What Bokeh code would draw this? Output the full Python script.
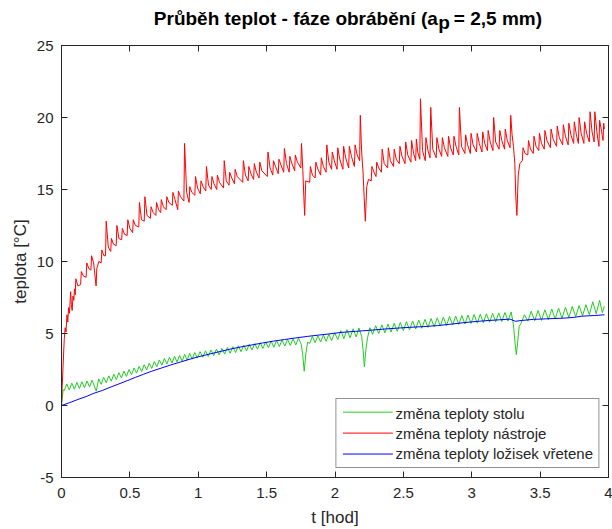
from bokeh.plotting import figure
from bokeh.layouts import column
from bokeh.models import Range1d, LinearAxis, FixedTicker, Legend, LegendItem, Label
from bokeh.embed import file_html
from bokeh.resources import INLINE

# ---------------- data ----------------
x_ticks = [0, 0.5, 1, 1.5, 2, 2.5, 3, 3.5, 4]
x_tick_labels = ["0", "0.5", "1", "1.5", "2", "2.5", "3", "3.5", "4"]
y_ticks = [-5, 0, 5, 10, 15, 20, 25]
y_tick_labels = ["-5", "0", "5", "10", "15", "20", "25"]

series_names = ["změna teploty stolu", "změna teploty nástroje", "změna teploty ložisek vřetene"]

# tool temperature (red)
red_t = [0, 0.005, 0.010, 0.015, 0.020, 0.027, 0.033, 0.040, 0.046, 0.052, 0.058, 0.063, 0.067, 0.072, 0.078, 0.084, 0.090, 0.095,
         0.100, 0.105, 0.120,
         0.140, 0.145, 0.160,
         0.180, 0.185, 0.200,
         0.215, 0.220, 0.235,
         0.253, 0.258, 0.273,
         0.290, 0.295, 0.310,
         0.322, 0.327, 0.342,
         0.360, 0.365, 0.380,
         0.400, 0.405, 0.420,
         0.440, 0.445, 0.460,
         0.480, 0.485, 0.500,
         0.520, 0.525, 0.540,
         0.565, 0.570, 0.585,
         0.605, 0.610, 0.625,
         0.650, 0.655, 0.670,
         0.690, 0.695, 0.710,
         0.725, 0.730, 0.745,
         0.765, 0.770, 0.785,
         0.810, 0.815, 0.830,
         0.850, 0.855, 0.870,
         0.895, 0.900, 0.915,
         0.933, 0.938, 0.953,
         0.975, 0.980, 0.995,
         1.015, 1.020, 1.035,
         1.055, 1.060, 1.075,
         1.095, 1.100, 1.115,
         1.135, 1.140, 1.155,
         1.185, 1.190, 1.205,
         1.225, 1.230, 1.245,
         1.265, 1.270, 1.285,
         1.325, 1.330, 1.345,
         1.365, 1.370, 1.385,
         1.405, 1.410, 1.425,
         1.445, 1.450, 1.465,
         1.505, 1.510, 1.525,
         1.545, 1.550, 1.565,
         1.585, 1.590, 1.605,
         1.625, 1.630, 1.645,
         1.665, 1.670, 1.685,
         1.705, 1.710, 1.725,
         1.750, 1.755, 1.765,
         1.772, 1.778, 1.786,
         1.815, 1.820, 1.835,
         1.855, 1.860, 1.875,
         1.895, 1.900, 1.915,
         1.935, 1.940, 1.955,
         1.975, 1.980, 1.995,
         2.015, 2.020, 2.035,
         2.058, 2.063, 2.078,
         2.100, 2.105, 2.120,
         2.142, 2.147, 2.162,
         2.180, 2.185, 2.195,
         2.205, 2.213, 2.222,
         2.232, 2.245,
         2.265, 2.270, 2.285,
         2.300, 2.305, 2.320,
         2.340, 2.345, 2.360,
         2.385, 2.390, 2.405,
         2.428, 2.433, 2.448,
         2.470, 2.475, 2.490,
         2.512, 2.517, 2.532,
         2.555, 2.560, 2.575,
         2.590, 2.595, 2.605,
         2.620, 2.625, 2.640,
         2.660, 2.665, 2.680,
         2.695, 2.700, 2.715,
         2.740, 2.745, 2.760,
         2.780, 2.785, 2.800,
         2.825, 2.830, 2.845,
         2.865, 2.870, 2.885,
         2.905, 2.910, 2.925,
         2.950, 2.955, 2.970,
         2.990, 2.995, 3.010,
         3.035, 3.040, 3.055,
         3.075, 3.080, 3.095,
         3.115, 3.120, 3.135,
         3.155, 3.160, 3.175,
         3.200, 3.205, 3.220,
         3.240, 3.245, 3.260,
         3.280, 3.285, 3.295,
         3.305, 3.315, 3.322, 3.330, 3.340, 3.352,
         3.370, 3.375, 3.390,
         3.410, 3.415, 3.430,
         3.450, 3.455, 3.470,
         3.490, 3.495, 3.510,
         3.530, 3.535, 3.550,
         3.575, 3.580, 3.595,
         3.620, 3.625, 3.640,
         3.665, 3.670, 3.685,
         3.705, 3.710, 3.725,
         3.745, 3.750, 3.765,
         3.780, 3.785, 3.800,
         3.820, 3.825, 3.840,
         3.860, 3.865, 3.880,
         3.895, 3.900, 3.915,
         3.930, 3.935, 3.950,
         3.960, 3.965, 3.970]
red_v = [0, 1.3, 2.4, 3.5, 4.6, 5.4, 5.1, 6.3, 5.8, 6.8, 6.4, 7.2, 7.9, 7.0, 6.6, 7.6, 7.3, 8.1,
         7.7, 8.8, 8.3,
         8.4, 9.3, 9.0,
         8.9, 9.9, 9.5,
         9.4, 10.4, 9.9,
         8.3, 9.5, 10.0,
         9.9, 10.8, 10.4,
         10.4, 12.8, 11.0,
         10.7, 11.6, 11.2,
         11.1, 12.5, 11.6,
         11.5, 12.3, 11.9,
         11.8, 12.9, 12.3,
         12.0, 12.9, 12.5,
         12.4, 14.1, 12.9,
         12.8, 14.5, 13.2,
         13.0, 13.8, 13.4,
         13.2, 14.1, 13.6,
         13.4, 14.3, 13.8,
         13.6, 14.5, 14.1,
         13.9, 14.8, 14.3,
         13.6, 14.9, 14.5,
         14.2, 18.2, 14.8,
         14.1, 15.2, 14.8,
         14.6, 15.9, 15.1,
         14.7, 15.6, 15.2,
         14.9, 16.6, 15.3,
         15.0, 15.9, 15.4,
         15.0, 16.0, 15.5,
         15.1, 17.0, 15.6,
         15.3, 16.2, 15.8,
         15.4, 16.4, 15.9,
         15.5, 17.0, 16.0,
         15.6, 16.6, 16.1,
         15.7, 16.8, 16.2,
         15.8, 16.9, 16.3,
         15.9, 17.6, 16.5,
         16.0, 17.0, 16.6,
         16.1, 17.1, 16.7,
         16.2, 17.85, 16.8,
         16.2, 17.3, 16.8,
         16.3, 17.4, 16.9,
         16.5, 18.2, 16.3,
         14.5, 13.2, 15.6,
         15.5, 16.6, 16.0,
         15.8, 16.9, 16.4,
         16.0, 17.2, 16.6,
         16.2, 18.1, 16.9,
         16.4, 17.6, 17.0,
         16.4, 17.9, 17.1,
         16.4, 18.0, 17.2,
         16.5, 18.0, 17.3,
         16.6, 18.1, 17.4,
         17.0, 20.15, 17.6,
         16.2, 14.5, 12.8,
         15.2, 15.7,
         15.6, 16.6, 16.2,
         15.9, 16.9, 16.5,
         16.2, 17.8, 16.8,
         16.5, 17.9, 17.0,
         16.6, 17.8, 17.1,
         16.8, 18.0, 17.3,
         16.8, 18.3, 17.4,
         16.9, 18.4, 17.5,
         17.0, 18.5, 17.6,
         17.1, 21.3, 17.7,
         17.0, 18.6, 17.7,
         17.2, 20.7, 17.8,
         17.2, 18.6, 17.8,
         17.3, 18.6, 17.9,
         17.3, 18.7, 17.9,
         17.4, 18.7, 18.0,
         17.4, 20.7, 18.0,
         17.5, 18.8, 18.1,
         17.5, 18.9, 18.1,
         17.6, 18.9, 18.2,
         17.6, 19.0, 18.2,
         17.7, 19.1, 18.3,
         17.7, 20.0, 18.3,
         17.8, 19.1, 18.4,
         17.8, 19.2, 18.4,
         17.9, 20.15, 18.8,
         18.0, 16.8, 14.5, 13.2, 16.0, 16.8,
         17.0, 17.9, 17.5,
         17.4, 18.4, 17.8,
         17.5, 18.7, 18.0,
         17.7, 18.9, 18.2,
         17.8, 19.1, 18.4,
         17.9, 19.2, 18.5,
         18.0, 19.4, 18.6,
         18.1, 19.5, 18.7,
         18.1, 19.6, 18.8,
         18.2, 19.7, 18.8,
         18.2, 20.0, 18.9,
         18.2, 19.7, 18.9,
         18.3, 20.4, 19.0,
         18.3, 20.4, 19.0,
         18.0, 19.8, 19.0,
         18.4, 19.6, 19.2]

# table temperature (green): cusp / crest pairs
green_t = [0, 0.006, 0.012,
           0.020, 0.0385, 0.057, 0.0755, 0.094, 0.1125, 0.131, 0.1495, 0.168, 0.1865, 0.205, 0.2235,
           0.254, 0.272, 0.290, 0.3085, 0.327, 0.3455, 0.364, 0.3825, 0.401, 0.4195, 0.438, 0.4565,
           0.475, 0.4935, 0.512, 0.5305, 0.549, 0.5675, 0.586, 0.6045, 0.623, 0.6415, 0.660, 0.6785,
           0.697, 0.7155, 0.734, 0.7525, 0.771, 0.7895, 0.808, 0.8265, 0.845, 0.8635, 0.882, 0.9005,
           0.919, 0.9375, 0.956, 0.9745, 0.993, 1.013, 1.033, 1.053, 1.073, 1.093, 1.113, 1.133,
           1.153, 1.173, 1.193, 1.213, 1.233, 1.253, 1.273, 1.293, 1.313, 1.333, 1.353, 1.373,
           1.393, 1.413, 1.433, 1.453, 1.473, 1.493, 1.513, 1.533, 1.553, 1.573, 1.593, 1.613,
           1.633, 1.653, 1.673, 1.693, 1.713, 1.733, 1.753, 1.763, 1.775, 1.787, 1.800,
           1.815, 1.835, 1.855, 1.875, 1.895, 1.915, 1.935, 1.955, 1.975, 1.9975,
           2.020, 2.0425, 2.065, 2.0875, 2.110, 2.1325, 2.155, 2.175, 2.195, 2.205, 2.215, 2.226, 2.238, 2.255,
           2.275, 2.2975, 2.320, 2.3425, 2.365, 2.3875, 2.410, 2.4325, 2.455, 2.4775, 2.500, 2.5225,
           2.545, 2.5675, 2.590, 2.6125, 2.635, 2.6575, 2.680, 2.7025, 2.725, 2.7475, 2.770, 2.7925,
           2.815, 2.8375, 2.860, 2.8825, 2.905, 2.9275, 2.950, 2.9725, 2.995, 3.0175, 3.040, 3.0625,
           3.085, 3.1075, 3.130, 3.1525, 3.175, 3.1975, 3.220, 3.2425, 3.265, 3.288,
           3.305, 3.316, 3.326, 3.336, 3.347, 3.360, 3.385,
           3.410, 3.435, 3.460, 3.485, 3.510, 3.535, 3.560, 3.585, 3.610, 3.635, 3.660, 3.685,
           3.710, 3.735, 3.760, 3.785, 3.810, 3.835, 3.860, 3.885, 3.910, 3.935, 3.955, 3.970]
green_v = [0, 0.5, 1.1,
           1.03, 1.50, 1.08, 1.55, 1.13, 1.60, 1.18, 1.65, 1.24, 1.70, 1.29, 1.76,
           1.00, 1.85, 1.47, 1.95, 1.58, 2.06, 1.69, 2.17, 1.80, 2.28, 1.91, 2.39,
           2.02, 2.50, 2.14, 2.61, 2.25, 2.72, 2.36, 2.83, 2.47, 2.94, 2.58, 3.05,
           2.69, 3.16, 2.80, 3.27, 2.89, 3.35, 2.95, 3.42, 3.02, 3.48, 3.09, 3.55,
           3.15, 3.62, 3.22, 3.68, 3.29, 3.74, 3.35, 3.80, 3.40, 3.86, 3.46, 3.92,
           3.51, 3.97, 3.57, 4.03, 3.63, 4.08, 3.68, 4.14, 3.74, 4.19, 3.79, 4.25,
           3.85, 4.30, 3.91, 4.36, 3.96, 4.42, 4.01, 4.47, 4.05, 4.51, 4.09, 4.55,
           4.13, 4.59, 4.17, 4.63, 4.21, 4.67, 4.25, 3.60, 2.38, 3.60, 4.40,
           4.31, 4.80, 4.36, 4.85, 4.41, 4.90, 4.46, 4.95, 4.51, 5.05,
           4.58, 5.20, 4.64, 5.27, 4.70, 5.33, 4.76, 5.38, 4.80, 3.90, 2.68, 3.90, 4.70, 5.40,
           4.94, 5.55, 5.00, 5.60, 5.05, 5.66, 5.10, 5.71, 5.15, 5.77, 5.20, 5.82,
           5.25, 5.87, 5.31, 5.93, 5.36, 5.98, 5.42, 6.04, 5.47, 6.09, 5.52, 6.14,
           5.55, 6.18, 5.59, 6.21, 5.63, 6.25, 5.66, 6.28, 5.70, 6.32, 5.72, 6.34,
           5.75, 6.37, 5.78, 6.40, 5.81, 6.43, 5.83, 6.46, 5.86, 6.50,
           5.60, 4.40, 3.53, 4.40, 5.50, 5.70, 6.30,
           5.86, 6.55, 5.88, 6.60, 5.91, 6.65, 5.96, 6.70, 6.01, 6.76, 6.06, 6.82,
           6.11, 6.88, 6.16, 6.94, 6.23, 7.00, 6.30, 7.20, 6.37, 7.30, 6.45, 6.90]

# spindle bearing temperature (blue)
blue_t = [0, 0.06, 0.12, 0.18, 0.237, 0.30, 0.36, 0.42, 0.48, 0.54, 0.60, 0.66, 0.73, 0.80, 0.87, 0.94,
          1.00, 1.08, 1.16, 1.24, 1.32, 1.40, 1.47, 1.55, 1.63, 1.71, 1.80, 1.88, 1.95, 2.05, 2.15, 2.25,
          2.35, 2.45, 2.55, 2.65, 2.75, 2.85, 2.95, 3.04, 3.12, 3.20, 3.28, 3.30, 3.32, 3.36, 3.45, 3.55,
          3.68, 3.75, 3.80, 3.90, 3.97]
blue_v = [0, 0.20, 0.42, 0.62, 0.85, 1.05, 1.28, 1.50, 1.72, 1.95, 2.17, 2.38, 2.60, 2.82, 3.02, 3.22,
          3.38, 3.57, 3.75, 3.93, 4.08, 4.22, 4.34, 4.47, 4.58, 4.69, 4.80, 4.89, 4.96, 5.08, 5.15, 5.22,
          5.30, 5.37, 5.43, 5.48, 5.55, 5.65, 5.76, 5.84, 5.90, 5.95, 6.00, 5.92, 5.85, 5.90, 5.98, 6.02,
          6.07, 6.12, 6.20, 6.25, 6.30]

title_main = "Průběh teplot - fáze obrábění (a"
title_sub = "p"
title_rest = "= 2,5 mm)"
x_label = "t [hod]"
y_label = "teplota [°C]"

# ---------------- styling ----------------
FONT = "Liberation Sans"
DARK = "#262626"
GREEN = "#22cc22"
RED = "#ff0000"
BLUE = "#0000ff"
COLORS = [GREEN, RED, BLUE]
W = 612
TITLE_H = 35

# --- title strip (a separate svg figure, px-based ranges) ---
pt = figure(width=W, height=TITLE_H, output_backend="svg", toolbar_location=None,
            x_range=Range1d(0, W), y_range=Range1d(0, TITLE_H),
            x_axis_location=None, y_axis_location=None, min_border=0,
            background_fill_color="white", border_fill_color="white")
pt.grid.visible = False
pt.outline_line_color = None
common = dict(text_font=FONT, text_font_size="19px", text_font_style="bold", text_color="black",
              text_baseline="middle")
pt.add_layout(Label(x=421, y=17.3, text=title_main, text_align="right", **common))
pt.add_layout(Label(x=421.5, y=13.3, text=title_sub, text_align="left", **common))
pt.add_layout(Label(x=439, y=17.3, text=title_rest, text_align="left", **common))

# --- main chart ---
p = figure(width=W, height=529 - TITLE_H, output_backend="svg", toolbar_location=None,
           x_range=Range1d(0, 4), y_range=Range1d(-5, 25),
           min_border_left=61, min_border_right=4, min_border_top=10, min_border_bottom=51,
           background_fill_color="white", border_fill_color="white")
p.grid.visible = False
p.outline_line_color = DARK
p.outline_line_width = 1

def style_axis(ax, show_labels, ticks, labels):
    ax.ticker = FixedTicker(ticks=ticks)
    ax.axis_line_color = DARK
    ax.axis_line_width = 1
    ax.major_tick_line_color = DARK
    ax.major_tick_in = 6
    ax.major_tick_out = 0
    ax.minor_tick_line_color = None
    ax.major_label_text_font = FONT
    ax.major_label_text_color = DARK
    if show_labels:
        ax.major_label_overrides = dict(zip(ticks, labels))
        ax.major_label_text_font_size = "15px"
    else:
        ax.major_label_overrides = {t: "" for t in ticks}
        ax.major_label_text_font_size = "0px"
        ax.major_label_standoff = 0

xa = p.xaxis[0]
ya = p.yaxis[0]
style_axis(xa, True, x_ticks, x_tick_labels)
style_axis(ya, True, y_ticks, y_tick_labels)
xa.major_label_standoff = 10
ya.major_label_standoff = 8
xa.axis_label = x_label
ya.axis_label = y_label
for ax in (xa, ya):
    ax.axis_label_text_font = FONT
    ax.axis_label_text_font_size = "17px"
    ax.axis_label_text_font_style = "normal"
    ax.axis_label_text_color = DARK
xa.axis_label_standoff = 7
ya.axis_label_standoff = 4

top_ax = LinearAxis()
right_ax = LinearAxis()
style_axis(top_ax, False, x_ticks, x_tick_labels)
style_axis(right_ax, False, y_ticks, y_tick_labels)
p.add_layout(top_ax, "above")
p.add_layout(right_ax, "right")

r_green = p.line(green_t, green_v, line_color=GREEN, line_width=1)
r_red = p.line(red_t, red_v, line_color=RED, line_width=1)
r_blue = p.line(blue_t, blue_v, line_color=BLUE, line_width=1)

# legend sample lines (legend layout positions, in the plot's data space);
# the legend box is transparent so these show through it
sw_x0 = [2.058, 2.058, 2.058]
sw_x1 = [2.423, 2.423, 2.423]
sw_y = [-0.462, -1.917, -3.372]
p.segment(x0=sw_x0, y0=sw_y, x1=sw_x1, y1=sw_y, line_color=COLORS, line_width=1)

legend = Legend(items=[LegendItem(label=series_names[0], renderers=[r_green]),
                       LegendItem(label=series_names[1], renderers=[r_red]),
                       LegendItem(label=series_names[2], renderers=[r_blue])],
                location="bottom_right")
legend.label_text_font = FONT
legend.label_text_font_size = "15px"
legend.label_text_color = DARK
legend.glyph_width = 0
legend.glyph_height = 18
legend.label_height = 18
legend.label_standoff = 54
legend.spacing = 2
legend.padding = 5
legend.margin = 9
legend.border_line_color = DARK
legend.border_line_width = 1
legend.background_fill_alpha = 0
p.add_layout(legend)

layout = column(pt, p, spacing=0)
open("out.html", "w").write(file_html(layout, INLINE))
